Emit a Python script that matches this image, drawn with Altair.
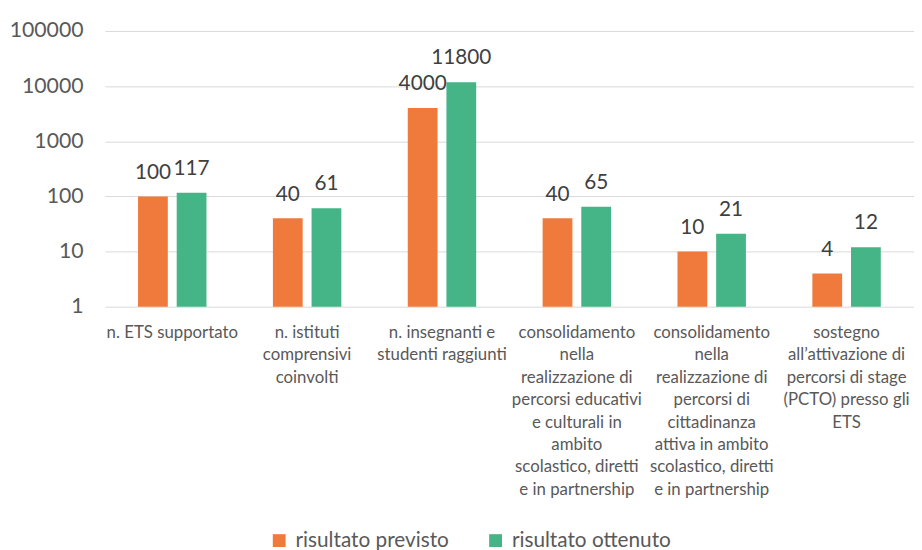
import altair as alt
import pandas as pd

categories = [
    "n. ETS supportato",
    "n. istituti|comprensivi|coinvolti",
    "n. insegnanti e|studenti raggiunti",
    "consolidamento|nella|realizzazione di|percorsi educativi|e culturali in|ambito|scolastico, diretti|e in partnership",
    "consolidamento|nella|realizzazione di|percorsi di|cittadinanza|attiva in ambito|scolastico, diretti|e in partnership",
    "sostegno|all’attivazione di|percorsi di stage|(PCTO) presso gli|ETS",
]
series = ["risultato previsto", "risultato ottenuto"]
previsto = [100, 40, 4000, 40, 10, 4]
ottenuto = [117, 61, 11800, 65, 21, 12]
colors = ["#EF7A3C", "#45B487"]
y_ticks = [1, 10, 100, 1000, 10000, 100000]

rows = []
for c, p, o in zip(categories, previsto, ottenuto):
    rows.append({"cat": c, "serie": series[0], "val": p})
    rows.append({"cat": c, "serie": series[1], "val": o})
df = pd.DataFrame(rows)

FONT = "Lato"
GREY = "#595959"

x = alt.X(
    "cat:N",
    sort=categories,
    scale=alt.Scale(paddingInner=0.4926, paddingOuter=0.2463),
    axis=alt.Axis(
        title=None,
        labelAngle=0,
        labelExpr="split(datum.value, '|')",
        labelFont=FONT,
        labelFontSize=17,
        labelColor=GREY,
        labelLineHeight=22.7,
        labelPadding=18,
        labelBaseline="top",
        labelLimit=0,
        ticks=False,
        domain=False,
    ),
)
xo = alt.XOffset("serie:N", sort=series, scale=alt.Scale(paddingInner=0.23, paddingOuter=0))
y = alt.Y(
    "val:Q",
    scale=alt.Scale(type="log", domain=[1, 100000]),
    axis=alt.Axis(
        title=None,
        values=y_ticks,
        format="d",
        labelFont=FONT,
        labelFontSize=21.5,
        labelColor=GREY,
        labelPadding=22,
        ticks=False,
        domain=False,
        gridColor="#D9D9D9",
        gridWidth=1,
    ),
)

bars = alt.Chart(df).mark_bar().encode(
    x=x,
    xOffset=xo,
    y=y,
    y2=alt.datum(1),
    color=alt.Color(
        "serie:N",
        sort=series,
        scale=alt.Scale(domain=series, range=colors),
        legend=alt.Legend(
            title=None,
            orient="none",
            legendX=166,
            legendY=505,
            direction="horizontal",
            symbolType="square",
            symbolSize=169,
            symbolStrokeWidth=0,
            labelFont=FONT,
            labelFontSize=21,
            labelColor=GREY,
            columnPadding=36,
            labelOffset=6,
            labelLimit=0,
        ),
    ),
)

labels = alt.Chart(df).mark_text(
    font=FONT, fontSize=21, color="#404040", baseline="alphabetic", dy=-18
).encode(
    x=x,
    xOffset=xo,
    y=y,
    text=alt.Text("val:Q", format="d"),
)

chart = (
    alt.layer(bars, labels)
    .properties(
        width=819,
        height=279,
        padding={"left": 98, "top": 20, "right": 0, "bottom": 248},
        autosize=alt.AutoSizeParams(type="none"),
    )
    .configure_view(stroke=None)
)

chart.save("out.html", embed_options={"renderer": "svg", "actions": False})
